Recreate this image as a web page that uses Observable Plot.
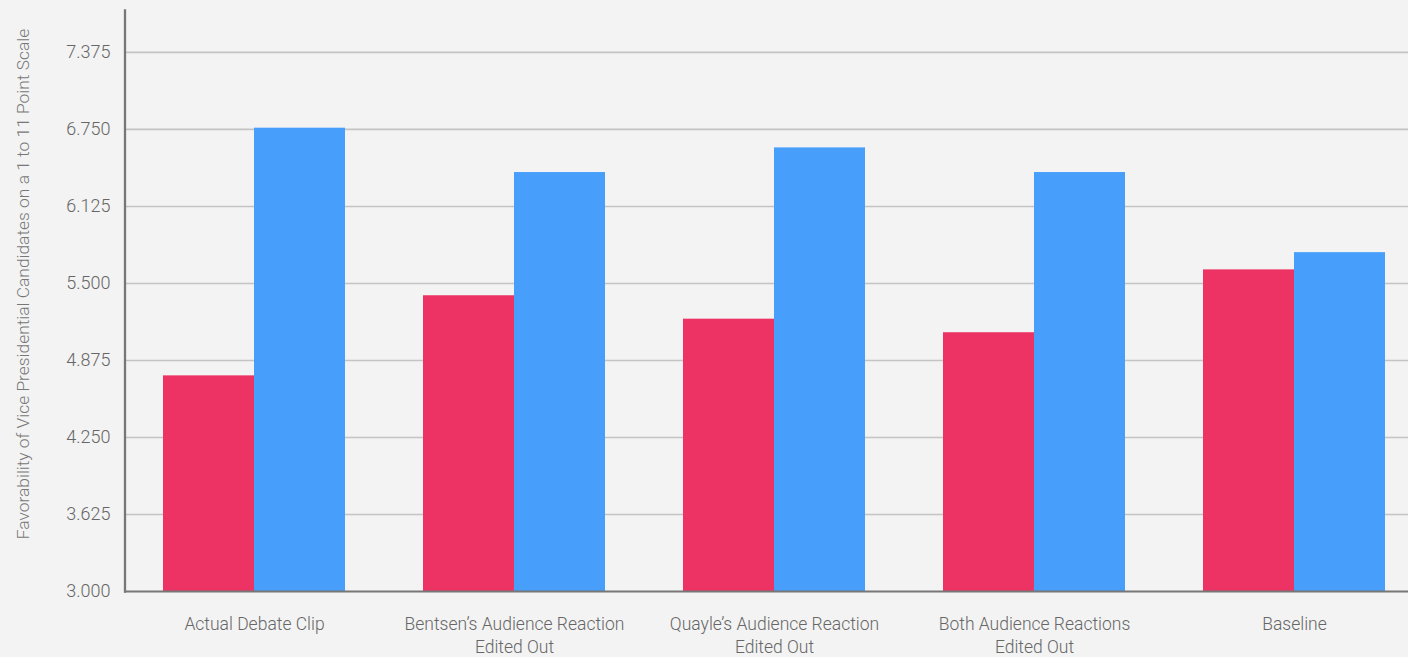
<!DOCTYPE html>
<html><head><meta charset="utf-8">
<script src="https://cdn.jsdelivr.net/npm/d3@7"></script>
<script src="https://cdn.jsdelivr.net/npm/@observablehq/plot@0.6"></script>
<style>
html,body{margin:0;padding:0;background:#f3f3f3;overflow:hidden;}
#chart{width:1408px;height:657px;overflow:hidden;}
</style></head><body><div id="chart"></div>
<script>
const categories = ["Actual Debate Clip", "Bentsen’s Audience Reaction Edited Out", "Quayle’s Audience Reaction Edited Out", "Both Audience Reactions Edited Out", "Baseline"];
const categoryLabels = ["Actual Debate Clip", "Bentsen’s Audience Reaction\nEdited Out", "Quayle’s Audience Reaction\nEdited Out", "Both Audience Reactions\nEdited Out", "Baseline"];
const series = ["Quayle", "Bentsen"];
const quayle = [4.75, 5.40, 5.21, 5.10, 5.61];
const bentsen = [6.76, 6.40, 6.60, 6.40, 5.75];
const yTicks = [3, 3.625, 4.25, 4.875, 5.5, 6.125, 6.75, 7.375];
const yLabel = "Favorability of Vice Presidential Candidates on a 1 to 11 Point Scale";
const colors = ["#ED3264", "#479EFB"];

const data = categories.flatMap((c, i) => [
  {category: c, series: "Quayle", value: quayle[i]},
  {category: c, series: "Bentsen", value: bentsen[i]}
]);

const chart = Plot.plot({
  width: 1408, height: 657,
  marginLeft: 124, marginRight: 0, marginTop: 10, marginBottom: 66,
  style: {background: "#f3f3f3", fontFamily: "Roboto, sans-serif", fontWeight: 300, overflow: "hidden"},
  fx: {domain: categories, range: [123.5, 1424.7], padding: 0},
  x: {domain: series, paddingInner: 0, paddingOuter: 0.42, axis: null},
  y: {domain: [3, 7.715]},
  color: {domain: series, range: colors},
  marks: [
    Plot.gridY(yTicks.slice(1), {stroke: "#c4c4c4", strokeOpacity: 1, strokeWidth: 1.6}),
    Plot.barY(data, {fx: "category", x: "series", y1: 3, y2: "value", fill: "series"}),
    Plot.ruleY([3], {stroke: "#777", strokeWidth: 2}),
    Plot.frame({anchor: "left", fx: categories[0], stroke: "#777", strokeWidth: 2.3, dx: 0.5}),
    Plot.axisY(yTicks, {tickSize: 0, tickPadding: 14, tickFormat: d3.format(".3f"), fontSize: 18, fill: "#666", label: null}),
    Plot.axisFx({anchor: "bottom", tickSize: 0, tickPadding: 22, fontSize: 17.5, lineHeight: 1.33, fill: "#666", label: null, tickFormat: d => categoryLabels[categories.indexOf(d)]}),
    Plot.text([yLabel], {fx: [categories[0]], text: d => d, frameAnchor: "left", rotate: -90, textAnchor: "middle", dx: -101, dy: -17, fontSize: 17.4, fill: "#777"})
  ]
});
document.getElementById("chart").append(chart);
</script></body></html>
